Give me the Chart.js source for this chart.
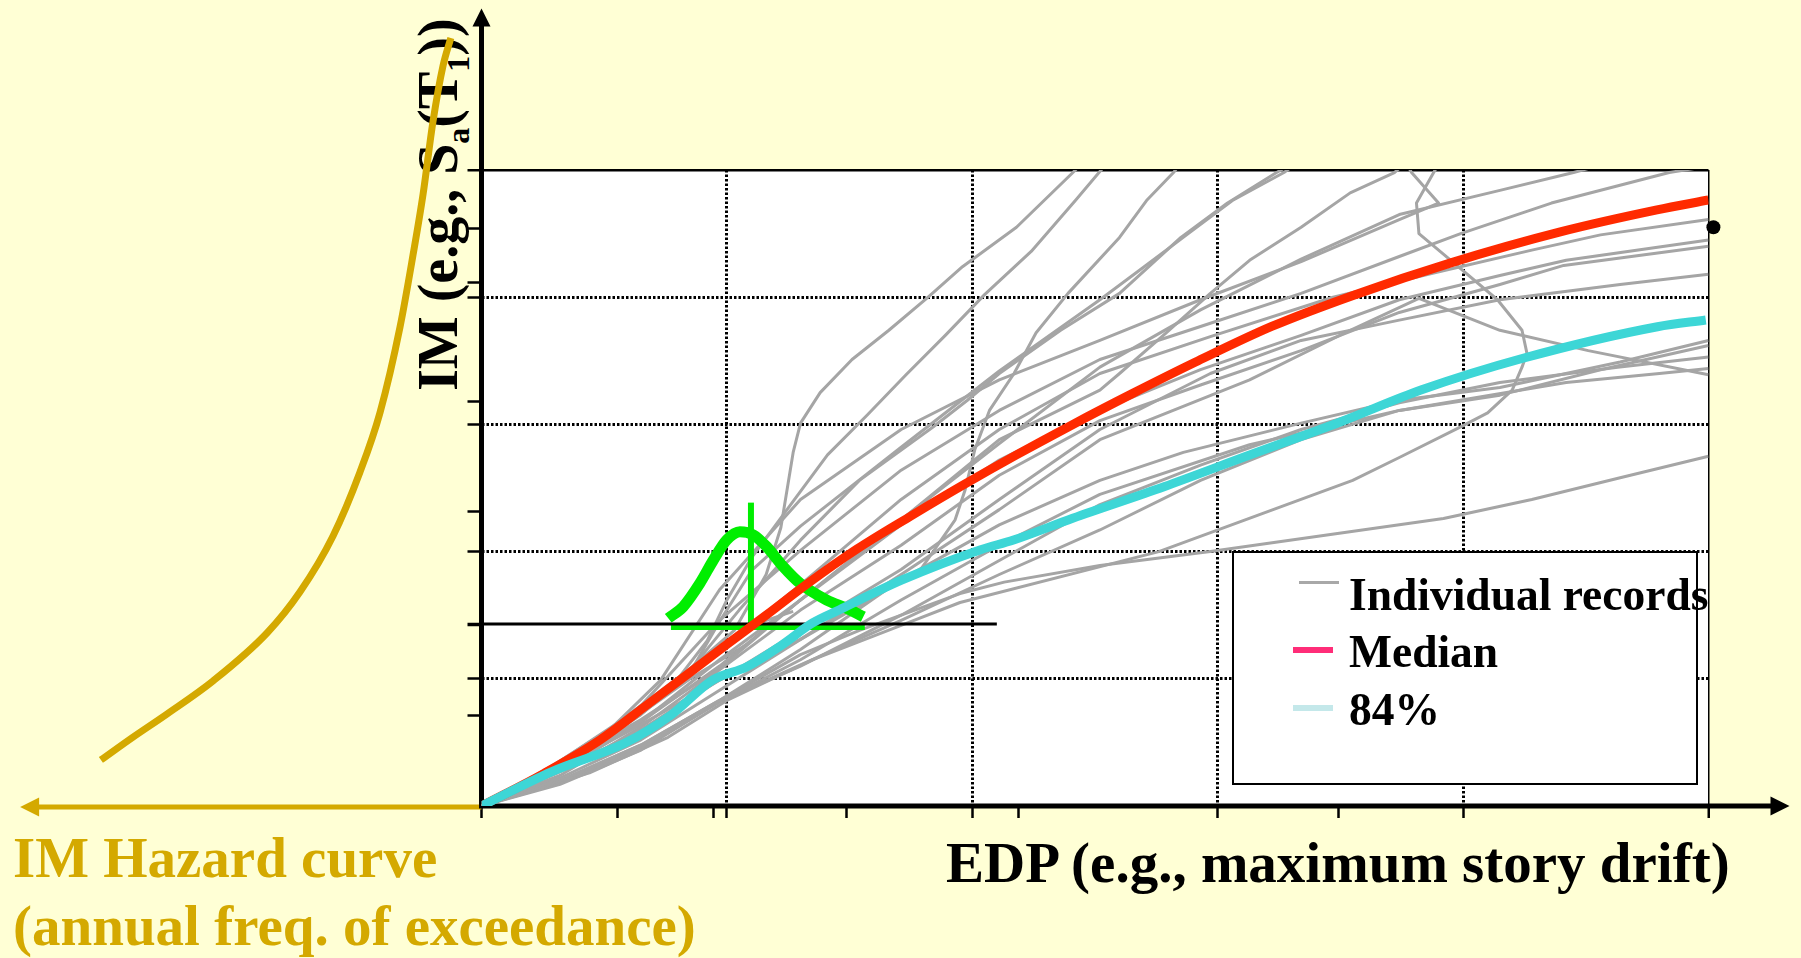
<!DOCTYPE html>
<html lang="en">
<head>
<meta charset="utf-8">
<title>IM - EDP</title>
<script src="https://cdn.jsdelivr.net/npm/chart.js@4.4.1/dist/chart.umd.min.js"></script>
<style>
  html, body { margin: 0; padding: 0; overflow: hidden; background: #ffffd5; }
  #stage { position: relative; width: 1801px; height: 958px; }
  #chart { position: absolute; left: 0; top: 0; z-index: 1; }
  .txt { position: absolute; font-family: "Liberation Serif", "Times New Roman", serif; font-weight: bold; line-height: 1; white-space: nowrap; color: #000; }
  .gold { color: #d4a900; }
  .sub { font-size: 32px; position: relative; top: 12px; }
  #yTitle { left: 410px; top: 391px; font-size: 56px; transform-origin: 0 0; transform: rotate(-90deg); z-index: 0; }
  #legendBox { position: absolute; left: 1232px; top: 551px; width: 466px; height: 234px; box-sizing: border-box; border: 2.5px solid #000; background: #fff; z-index: 2; }
  .sw { position: absolute; z-index: 3; width: 40px; }
  .leg { font-size: 45.5px; z-index: 3; }
</style>
</head>
<body>
<div id="stage">
  <div class="txt" id="yTitle">IM (e.g., S<span class="sub">a</span>(T<span class="sub">1</span>))</div>
  <canvas id="chart" width="1801" height="958"></canvas>

  <div class="txt" style="left:946px; top:834px; font-size:57px;">EDP (e.g., maximum story drift)</div>
  <div class="txt gold" style="left:13px; top:829px; font-size:57px;">IM Hazard curve</div>
  <div class="txt gold" style="left:13px; top:897px; font-size:57px;">(annual freq. of exceedance)</div>

  <div id="legendBox"></div>
  <div class="sw" style="left:1299px; top:581px; height:3px; background:#a8a8a8;"></div>
  <div class="sw" style="left:1293px; top:647px; height:6px; background:#ff2d78;"></div>
  <div class="sw" style="left:1293px; top:705px; height:6px; background:#c4e8ea;"></div>
  <div class="txt leg" style="left:1349px; top:572px;">Individual records</div>
  <div class="txt leg" style="left:1349px; top:629px;">Median</div>
  <div class="txt leg" style="left:1349px; top:687px;">84%</div>
</div>

<script>
// =======================================================
// DADOS (EDP no eixo x, IM no eixo y, unidades do grid)
// =======================================================
const edpTicks = [0, 0.556, 0.945, 1, 1.489, 2, 2.19, 3, 3.494, 4, 5];
const imTicks = [0, 0.715, 1, 1.43, 2, 2.315, 3, 3.18, 4, 4.112, 4.539, 5];

const rec01 = [[0,0],[0.28,0.30],[0.56,0.66],[0.85,1.08],[1.03,1.38],[1.16,1.82],[1.22,2.19],[1.27,2.78],[1.30,3.01],[1.38,3.25],[1.51,3.51],[1.66,3.74],[1.82,4.00],[1.96,4.24],[2.18,4.55],[2.41,4.98],[2.52,5.20]];
const rec02 = [[0,0],[0.30,0.33],[0.60,0.70],[0.80,1.00],[0.92,1.30],[1.00,1.62],[1.10,1.95],[1.26,2.37],[1.41,2.76],[1.57,3.07],[1.73,3.39],[1.89,3.70],[2.05,4.02],[2.24,4.36],[2.42,4.76],[2.56,5.08]];
const rec03 = [[0,0],[0.32,0.30],[0.65,0.64],[0.97,0.99],[1.30,1.31],[1.58,1.62],[1.79,1.86],[1.93,2.25],[1.97,2.48],[2.01,2.80],[2.07,3.11],[2.17,3.40],[2.26,3.72],[2.39,4.03],[2.60,4.47],[2.71,4.76],[2.82,4.98],[2.89,5.16]];
const rec04 = [[0,0],[0.32,0.32],[0.61,0.68],[0.85,1.07],[1.05,1.54],[1.30,2.09],[1.54,2.56],[1.84,2.98],[1.98,3.19],[2.11,3.40],[2.36,3.74],[2.60,4.03],[2.85,4.47],[3.04,4.74],[3.24,4.98],[3.34,5.09]];
const rec05 = [[0,0],[0.32,0.33],[0.65,0.72],[0.85,1.05],[0.97,1.45],[1.10,1.85],[1.30,2.20],[1.71,2.82],[2.11,3.42],[2.52,3.98],[2.68,4.21],[2.88,4.50],[3.06,4.76],[3.27,4.98],[3.37,5.12]];
const rec06 = [[0,0],[0.32,0.32],[0.65,0.68],[0.97,1.08],[1.30,1.62],[1.71,2.25],[2.11,2.88],[2.52,3.27],[2.60,3.40],[2.79,3.72],[2.97,4.03],[3.13,4.29],[3.34,4.55],[3.54,4.82],[3.72,4.98],[3.78,5.08]];
const rec07 = [[0,0],[0.24,0.24],[0.48,0.52],[0.73,0.99],[0.97,1.70],[1.30,2.41],[1.71,2.96],[2.11,3.35],[2.52,3.66],[2.93,3.98],[3.34,4.28],[3.74,4.61],[3.90,4.74],[3.79,4.98],[3.76,5.08]];
const rec08 = [[0,0],[0.32,0.30],[0.65,0.66],[0.97,1.10],[1.30,1.62],[1.71,2.25],[2.11,2.85],[2.52,3.45],[2.93,3.90],[3.34,4.30],[3.74,4.65],[4.15,4.84],[4.45,4.98],[4.60,5.06]];
const rec09 = [[0,0],[0.32,0.30],[0.65,0.79],[0.97,1.46],[1.30,2.01],[1.71,2.64],[2.11,3.11],[2.52,3.51],[2.93,3.77],[3.34,4.03],[3.74,4.32],[3.99,4.50],[4.36,4.74],[4.84,4.98],[5.00,5.03]];
const rec10 = [[0,0],[0.32,0.28],[0.65,0.72],[0.97,1.23],[1.30,1.74],[1.71,2.41],[2.11,2.96],[2.52,3.40],[2.97,3.69],[3.47,4.00],[3.88,4.19],[4.28,4.37],[4.56,4.49],[5.00,4.61]];
const rec11 = [[0,0],[0.32,0.27],[0.65,0.66],[0.97,1.15],[1.30,1.62],[1.71,2.21],[2.11,2.72],[2.52,3.11],[2.93,3.43],[3.34,3.70],[3.74,3.98],[4.15,4.17],[4.42,4.29],[5.00,4.45]];
const rec12 = [[0,0],[0.32,0.24],[0.65,0.62],[0.97,1.07],[1.30,1.54],[1.71,2.05],[2.11,2.60],[2.52,3.03],[2.93,3.31],[3.34,3.58],[3.74,3.88],[4.15,4.10],[4.41,4.25],[5.00,4.40]];
const rec13 = [[0,0],[0.32,0.27],[0.65,0.60],[0.97,0.99],[1.30,1.38],[1.71,1.86],[2.11,2.41],[2.52,2.96],[2.97,3.40],[3.34,3.66],[3.74,3.82],[4.15,3.98],[4.64,4.10],[5.00,4.18]];
const rec14 = [[0,0],[0.32,0.22],[0.65,0.52],[0.97,0.91],[1.30,1.31],[1.71,1.82],[2.11,2.33],[2.52,2.88],[3.13,3.35],[3.54,3.74],[3.82,3.99],[4.15,3.74],[4.51,3.58],[5.00,3.39]];
const rec15 = [[0,0],[0.32,0.20],[0.65,0.48],[0.97,0.83],[1.30,1.23],[1.71,1.78],[2.11,2.21],[2.52,2.56],[2.86,2.78],[3.34,3.01],[3.74,3.19],[4.15,3.29],[4.64,3.49],[5.00,3.66]];
const rec16 = [[0,0],[0.32,0.19],[0.65,0.46],[0.97,0.82],[1.30,1.15],[1.71,1.62],[2.11,2.05],[2.52,2.45],[3.13,2.84],[3.74,3.11],[4.15,3.23],[4.56,3.43],[5.00,3.62]];
const rec17 = [[0,0],[0.32,0.18],[0.65,0.45],[0.97,0.82],[1.30,1.10],[1.71,1.50],[2.11,1.93],[2.52,2.37],[2.93,2.68],[3.34,2.96],[3.74,3.17],[4.15,3.33],[4.63,3.45],[5.00,3.53]];
const rec18 = [[0,0],[0.32,0.17],[0.65,0.44],[0.97,0.82],[1.30,1.11],[1.71,1.46],[2.11,1.82],[2.52,2.17],[2.93,2.56],[3.34,2.88],[3.74,3.11],[4.42,3.33],[4.80,3.40],[5.00,3.44]];
const rec19 = [[0,0],[0.44,0.26],[0.76,0.54],[1.00,0.83],[1.35,1.15],[1.71,1.42],[1.95,1.60],[2.76,2.00],[3.55,2.56],[3.74,2.74],[3.99,2.98],[4.10,3.09],[4.20,3.27],[4.24,3.45],[4.26,3.56],[4.24,3.74],[4.14,3.98],[3.95,4.29],[3.82,4.50],[3.81,4.74],[3.88,4.98],[3.91,5.08]];
const rec20 = [[0,0],[0.32,0.20],[0.65,0.48],[0.97,0.83],[1.30,1.19],[1.54,1.38],[1.95,1.67],[2.13,1.76],[2.52,1.89],[2.97,2.00],[3.92,2.26],[4.28,2.41],[4.64,2.58],[5.00,2.75]];
const rec21 = [[0,0],[0.30,0.30],[0.60,0.66],[0.85,1.00],[1.08,1.27]];
const rec22 = [[0,0],[0.30,0.32],[0.60,0.70],[0.90,1.15],[1.10,1.42],[1.27,1.53]];
const records = [rec01, rec02, rec03, rec04, rec05, rec06, rec07, rec08, rec09, rec10, rec11,
                 rec12, rec13, rec14, rec15, rec16, rec17, rec18, rec19, rec20, rec21, rec22];

const median = [[0,0],[0.257,0.259],[0.483,0.519],[0.678,0.80],[0.85,1.05],[1.0,1.27],[1.16,1.50],[1.33,1.75],[1.53,2.02],[1.75,2.28],[1.96,2.52],[2.18,2.76],[2.41,3.00],[2.65,3.24],[2.91,3.49],[3.22,3.77],[3.56,4.02],[3.95,4.27],[4.40,4.515],[4.79,4.686],[5.0,4.764]];
const pct84 = [[0,0],[0.287,0.270],[0.585,0.495],[0.772,0.715],[0.943,0.991],[1.082,1.095],[1.224,1.266],[1.349,1.439],[1.457,1.541],[1.714,1.777],[2.031,2.013],[2.168,2.091],[2.409,2.262],[2.781,2.510],[3.130,2.759],[3.502,3.021],[3.828,3.270],[4.244,3.520],[4.792,3.768],[4.989,3.821]];

// curva de risco (lado esquerdo, fora da área do gráfico), do IM alto para o baixo
const hazard = [[-0.125,6.038],[-0.157,5.818],[-0.198,5.377],[-0.238,4.811],[-0.279,4.332],[-0.332,3.766],[-0.414,3.090],[-0.495,2.626],[-0.605,2.123],[-0.740,1.682],[-0.874,1.360],[-1.094,0.983],[-1.282,0.723],[-1.420,0.542],[-1.551,0.362]];

// distribuição de EDP no nível de IM
const imLevel = 1.43;
const imLevelEnd = 2.10;
const pdfCurve = [[0.761,1.476],[0.822,1.567],[0.890,1.751],[0.945,1.934],[0.999,2.091],[1.053,2.156],[1.108,2.131],[1.162,2.039],[1.230,1.881],[1.298,1.751],[1.407,1.619],[1.488,1.554],[1.556,1.488]];
const pdfBase = [[0.772,1.403],[1.562,1.403]];
const pdfMedian = [[1.098,1.403],[1.098,2.385]];
const markerPoint = [[5.02,4.55]];

// extensões das setas dos eixos
const yArrowTip = 6.27;
const xArrowTip = 5.33;
const hazardArrowTip = -1.88;

const GOLD = '#d4a900';
const GREEN = '#00ee00';

// =======================================================
// PLUGINS
// =======================================================
const toXY = pts => pts.map(p => ({ x: p[0], y: p[1] }));
const isGrid = v => Number.isInteger(v) && v > 0 && v < 5;

const plotBackground = {
    id: 'plotBackground',
    beforeDraw(chart) {
        const { ctx, chartArea: a } = chart;
        ctx.save();
        ctx.fillStyle = '#ffffff';
        ctx.fillRect(a.left, a.top, a.right - a.left, a.bottom - a.top);
        ctx.restore();
    }
};

function triangle(ctx, p1, p2, p3) {
    ctx.beginPath();
    ctx.moveTo(p1[0], p1[1]);
    ctx.lineTo(p2[0], p2[1]);
    ctx.lineTo(p3[0], p3[1]);
    ctx.closePath();
    ctx.fill();
}

const axisArrows = {
    id: 'axisArrows',
    beforeDatasetsDraw(chart) {
        const { ctx, scales: { x, y } } = chart;
        const x0 = x.getPixelForValue(0);
        const y0 = y.getPixelForValue(0);
        const yTip = y.getPixelForValue(yArrowTip);
        const xTip = x.getPixelForValue(xArrowTip);
        const gTip = x.getPixelForValue(hazardArrowTip);
        ctx.save();
        // seta dourada (frequência anual)
        ctx.strokeStyle = GOLD;
        ctx.fillStyle = GOLD;
        ctx.lineWidth = 5;
        ctx.beginPath();
        ctx.moveTo(x0, y0 + 1);
        ctx.lineTo(gTip + 14, y0 + 1);
        ctx.stroke();
        triangle(ctx, [gTip, y0 + 1], [gTip + 19, y0 - 8.5], [gTip + 19, y0 + 10.5]);
        // eixos pretos
        ctx.strokeStyle = '#000';
        ctx.fillStyle = '#000';
        ctx.beginPath();
        ctx.moveTo(x0, y0 + 2.5);
        ctx.lineTo(x0, yTip + 14);
        ctx.moveTo(x0 - 2.5, y0);
        ctx.lineTo(xTip - 14, y0);
        ctx.stroke();
        triangle(ctx, [x0, yTip], [x0 - 9, yTip + 18], [x0 + 9, yTip + 18]);
        triangle(ctx, [xTip, y0], [xTip - 19, y0 - 9.5], [xTip - 19, y0 + 9.5]);
        ctx.restore();
    }
};

// =======================================================
// GRÁFICO
// =======================================================
function axisOptions(tickValues, tickLen, outerWidth) {
    return {
        type: 'linear',
        min: 0,
        max: 5,
        afterBuildTicks: axis => { axis.ticks = tickValues.map(v => ({ value: v })); },
        ticks: { display: false },
        border: {
            display: false,
            dash: c => (c.tick && isGrid(c.tick.value)) ? [2.5, 2] : []
        },
        grid: {
            drawTicks: true,
            tickLength: tickLen,
            color: c => {
                if (!c.tick) return 'rgba(0,0,0,0)';
                const v = c.tick.value;
                return (isGrid(v) || v === 5) ? '#000' : 'rgba(0,0,0,0)';
            },
            lineWidth: c => (c.tick && c.tick.value === 5) ? outerWidth : 3,
            tickColor: '#000',
            tickWidth: c => (c.tick && c.tick.value === imLevel) ? 3.5 : 2.5
        }
    };
}

const datasets = [];
records.forEach(r => datasets.push({
    data: toXY(r), borderColor: '#a5a5a5', borderWidth: 3, tension: 0, clip: 0, order: 6
}));
datasets.push({ data: toXY(pdfBase), borderColor: GREEN, borderWidth: 5, clip: false, order: 5 });
datasets.push({ data: toXY(pdfMedian), borderColor: GREEN, borderWidth: 6, clip: false, order: 5 });
datasets.push({ data: toXY(pdfCurve), borderColor: GREEN, borderWidth: 11, cubicInterpolationMode: 'monotone', clip: false, order: 5 });
datasets.push({ data: toXY([[0, imLevel], [imLevelEnd, imLevel]]), borderColor: '#000', borderWidth: 3, clip: false, order: 4 });
datasets.push({ data: toXY(median), borderColor: '#ff2a00', borderWidth: 9, cubicInterpolationMode: 'monotone', clip: 0, order: 3 });
datasets.push({ data: toXY(pct84), borderColor: '#3dd6d6', borderWidth: 9, cubicInterpolationMode: 'monotone', clip: 0, order: 2 });
datasets.push({ data: toXY(hazard), borderColor: GOLD, borderWidth: 7, cubicInterpolationMode: 'monotone', clip: false, order: 1 });
datasets.push({ data: toXY(markerPoint), showLine: false, pointRadius: 7, backgroundColor: '#000', borderWidth: 0, clip: false, order: 0 });

new Chart(document.getElementById('chart'), {
    type: 'line',
    data: { datasets: datasets },
    options: {
        responsive: false,
        devicePixelRatio: 1,
        animation: false,
        events: [],
        layout: { padding: { left: 461.5, right: 92.5, top: 170, bottom: 132 } },
        elements: {
            point: { radius: 0 },
            line: { borderCapStyle: 'butt', borderJoinStyle: 'round', fill: false }
        },
        plugins: { legend: { display: false }, tooltip: { enabled: false } },
        scales: {
            x: Object.assign(axisOptions(edpTicks, 12, 1.5), { position: 'bottom', afterFit: s => { s.height = 20; } }),
            y: Object.assign(axisOptions(imTicks, 14, 2.5), { position: 'left', afterFit: s => { s.width = 20; } })
        }
    },
    plugins: [plotBackground, axisArrows]
});
</script>
</body>
</html>
